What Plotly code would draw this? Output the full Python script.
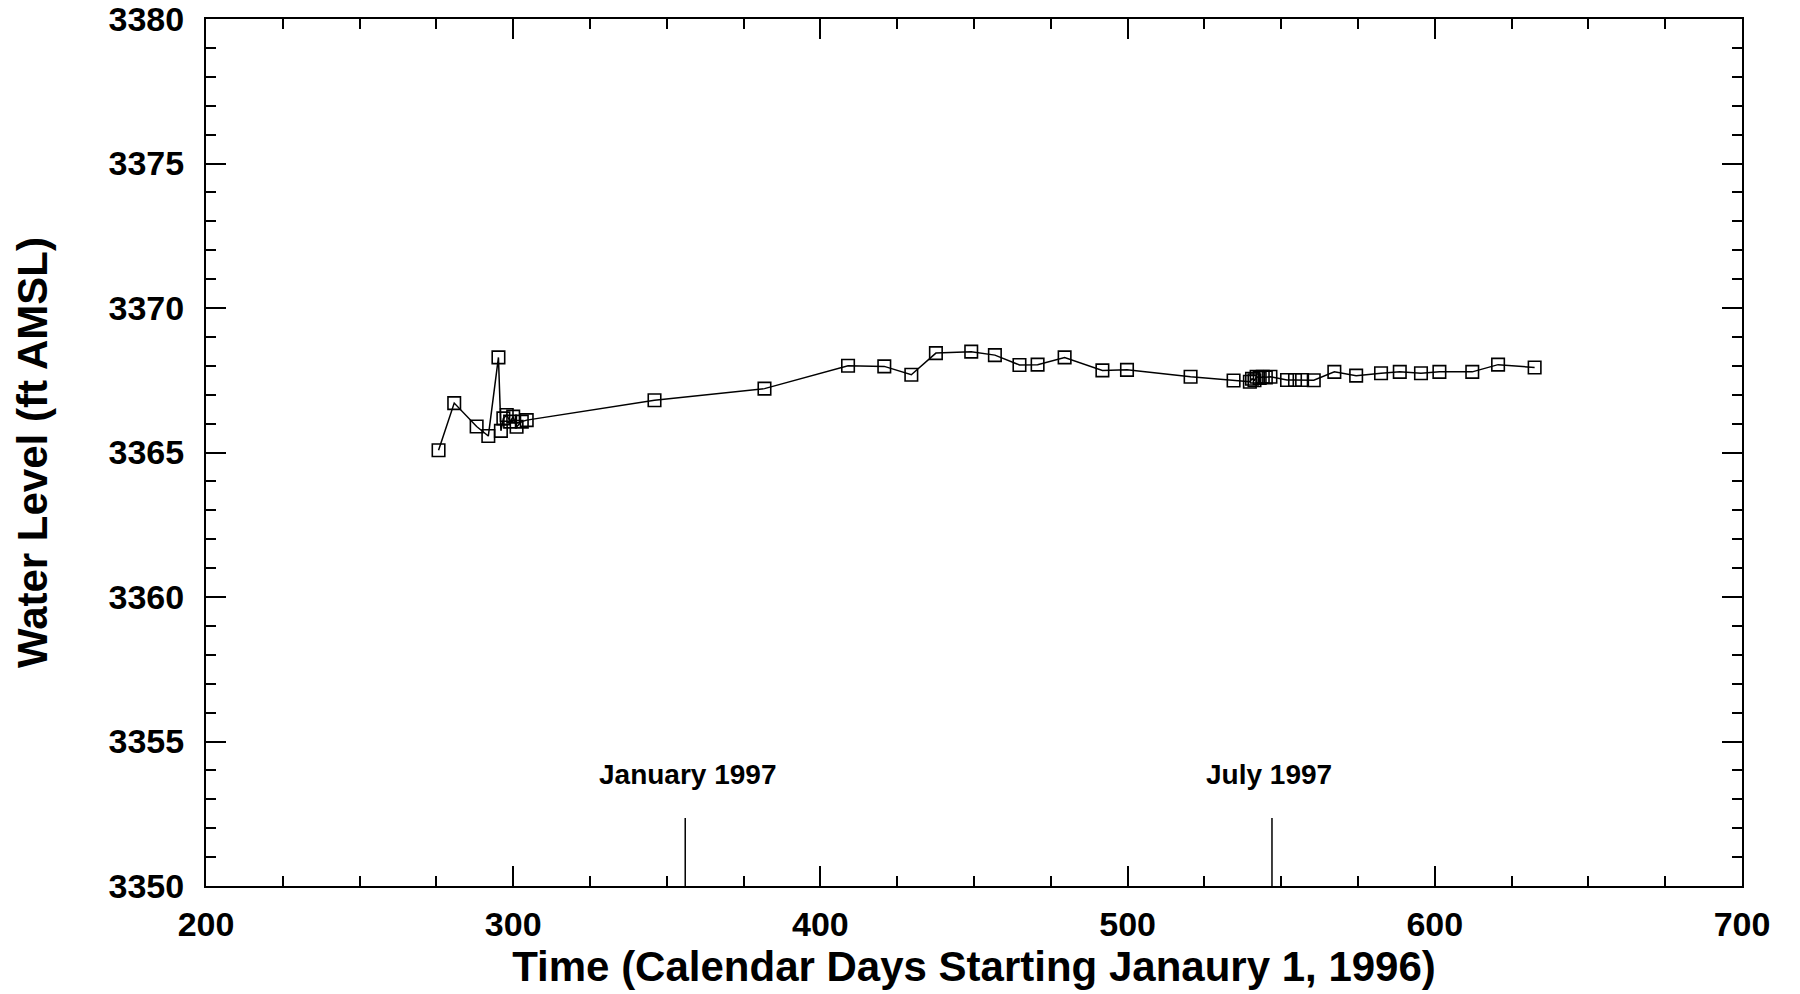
import plotly.graph_objects as go

# Data
days = [275.7, 280.8, 288.1, 291.9, 295.2, 296.0, 296.8, 297.9, 299.0, 300.0,
        301.1, 302.8, 304.4, 346.0, 381.8, 409.0, 420.8, 429.6, 437.6, 449.1,
        456.8, 464.8, 470.7, 479.5, 491.8, 499.8, 520.5, 534.5, 539.8, 540.5,
        541.3, 542.0, 543.0, 544.0, 545.0, 546.5, 551.9, 554.5, 556.8, 560.6,
        567.3, 574.4, 582.5, 588.6, 595.5, 601.5, 612.2, 620.6, 632.5]
levels = [3365.08, 3366.71, 3365.90, 3365.57, 3368.29, 3365.75, 3366.18, 3366.30,
          3366.07, 3366.24, 3365.89, 3366.07, 3366.12, 3366.81, 3367.21, 3368.00,
          3367.98, 3367.69, 3368.44, 3368.49, 3368.37, 3368.03, 3368.04, 3368.29,
          3367.84, 3367.86, 3367.62, 3367.49, 3367.45, 3367.55, 3367.50, 3367.62,
          3367.58, 3367.62, 3367.60, 3367.62, 3367.51, 3367.51, 3367.51, 3367.50,
          3367.79, 3367.66, 3367.74, 3367.79, 3367.74, 3367.79, 3367.79, 3368.04,
          3367.94]

event_days = [356, 547]
event_labels = ["January 1997", "July 1997"]
event_label_days = [356.8, 545.9]
event_line_bottom = 3350
event_line_top = 3352.35
event_label_level = 3353.85

x_range = [200, 700]
y_range = [3350, 3380]
x_tickvals = [200, 300, 400, 500, 600, 700]
y_tickvals = [3350, 3355, 3360, 3365, 3370, 3375, 3380]

FONT = "Liberation Sans, Arial, sans-serif"

fig = go.Figure()

fig.add_trace(go.Scatter(
    x=days, y=levels, mode="lines+markers",
    line=dict(color="black", width=1.5),
    marker=dict(symbol="square-open", size=12.5, color="black",
                line=dict(width=1.6, color="black")),
    showlegend=False, hoverinfo="x+y"))

for d in event_days:
    fig.add_trace(go.Scatter(
        x=[d, d], y=[event_line_bottom, event_line_top], mode="lines",
        line=dict(color="black", width=1.5), showlegend=False, hoverinfo="skip"))

for d, lab in zip(event_label_days, event_labels):
    fig.add_annotation(x=d, y=event_label_level, text="<b>%s</b>" % lab,
                       showarrow=False, xref="x", yref="y",
                       font=dict(family=FONT, size=28, color="black"))

axis_common = dict(
    showgrid=False, zeroline=False, showline=True, linecolor="black",
    linewidth=2, mirror="ticks", ticks="inside", ticklen=20, tickwidth=1.5,
    tickcolor="black", ticklabeloverflow="allow",
    tickfont=dict(family=FONT, size=34, color="black", weight="bold"),
)

fig.update_xaxes(
    range=x_range, tickvals=x_tickvals, ticklabelstandoff=7,
    minor=dict(dtick=25, ticks="inside", ticklen=10, tickwidth=1.5,
               tickcolor="black", showgrid=False),
    title=dict(text="Time (Calendar Days Starting Janaury 1, 1996)",
               font=dict(family=FONT, size=42, color="black", weight="bold"),
               standoff=6),
    **axis_common)

fig.update_yaxes(
    range=y_range, tickvals=y_tickvals, ticklabelstandoff=13,
    minor=dict(dtick=1, ticks="inside", ticklen=10, tickwidth=1.5,
               tickcolor="black", showgrid=False),
    title=dict(text="Water Level (ft AMSL)",
               font=dict(family=FONT, size=42, color="black", weight="bold"),
               standoff=48),
    **axis_common)

fig.update_layout(
    width=1800, height=994,
    margin=dict(l=206, r=58, t=19, b=108, autoexpand=False),
    paper_bgcolor="white", plot_bgcolor="white",
    font=dict(family=FONT, color="black"),
)

fig.write_html("out.html")
